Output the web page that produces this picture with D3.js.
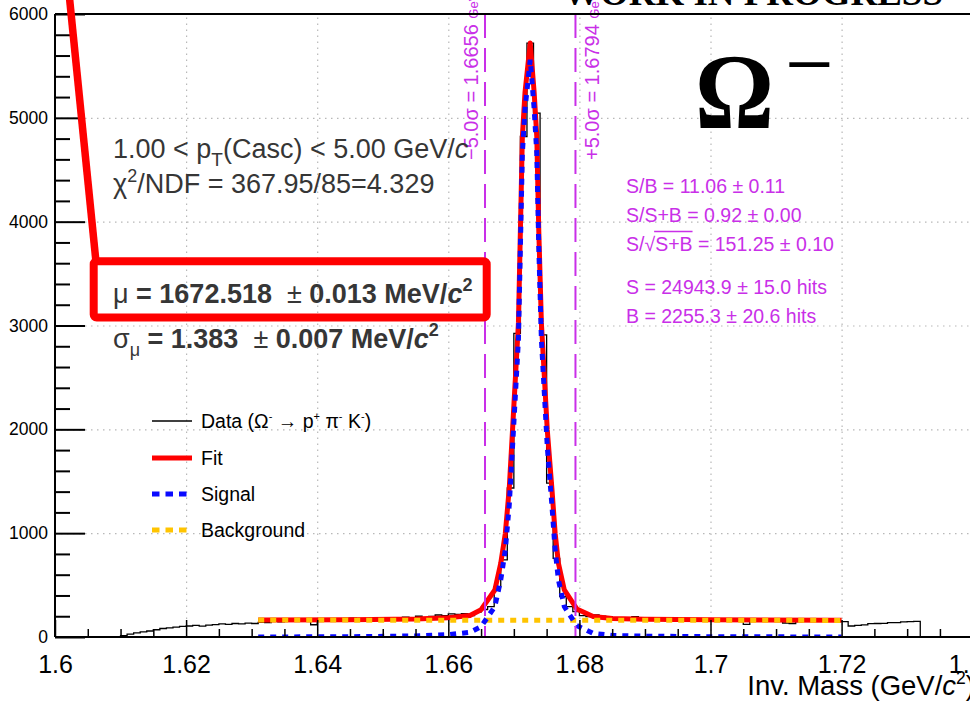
<!DOCTYPE html>
<html><head><meta charset="utf-8">
<script src="https://cdn.jsdelivr.net/npm/d3@7"></script>
<style>
html,body{margin:0;padding:0;background:#fff;}
svg{display:block;}
</style></head>
<body>
<svg id="c" width="970" height="703" font-family="Liberation Sans, Arial, Helvetica, sans-serif"></svg>
<script>
// ---------------- DATA ----------------
const histFirstEdge = 1.610;          // lower edge of first filled bin (GeV/c^2)
const histBinWidth = 0.001;           // 1 MeV bins
const histCounts = [
  12,28,40,50,58,70,82,88,95,102,          // 1.610-1.619
  106,112,104,114,120,126,122,130,126,134, // 1.620-1.629
  130,140,138,150,146,152,160,150,156,118, // 1.630-1.639
  158,165,160,170,178,182,168,172,165,175, // 1.640-1.649
  168,178,172,190,185,200,183,198,212,206, // 1.650-1.659
  222,218,225,205,240,265,292,485,742,1435,// 1.660-1.669
  2925,4820,5720,5045,2910,1481,758,388,292,244, // 1.670-1.679
  205,196,212,200,196,180,172,176,196,172, // 1.680-1.689
  165,160,168,158,162,155,165,160,158,150, // 1.690-1.699
  162,158,160,152,158,122,150,158,155,160, // 1.700-1.709
  152,135,130,148,155,150,158,152,156,150, // 1.710-1.719
  148,106,112,116,128,130,132,138,138,146, // 1.720-1.729
  148,150,4,4,4,4,4,4,4,4                  // 1.730-1.739
];

// fit curves
const fitMass  = [1.631,1.645,1.655,1.660,1.6633,1.6650,1.6671,1.6680,1.6687,1.6693,1.6698,1.6707,1.6710,1.6713,1.6717,1.6725,1.6731,1.6735,1.6738,1.6742,1.6751,1.6758,1.6763,1.6768,1.6777,1.6796,1.6821,1.6850,1.690,1.700,1.720];
const fitTotal = [163,166,173,185,208,263,453,710,999,1432,1994,3025,3921,4820,5243,5720,5243,4820,3921,3025,1994,1432,999,710,453,270,198,178,171,166,162];
const fitSignal= [0,3,10,22,45,100,293,550,839,1272,1834,2865,3760,4660,5083,5560,5083,4660,3760,2865,1834,1272,839,550,293,110,35,15,8,3,0];
const bgMass = [1.631,1.660,1.690,1.720];
const bgVals = [163,162,161,160];

const sigmaLines = [1.6656, 1.6794];
const sigmaLabels = ["\u22125.0\u03c3 = 1.6656", "+5.0\u03c3 = 1.6794"];

const xMajorTicks = [1.6,1.62,1.64,1.66,1.68,1.7,1.72,1.74];
const xTickLabels = ["1.6","1.62","1.64","1.66","1.68","1.7","1.72","1.74"];
const yMajorTicks = [0,1000,2000,3000,4000,5000,6000];
const yTickLabels = ["0","1000","2000","3000","4000","5000","6000"];

const statLines = ["S/B = 11.06 \u00b1 0.11","S/S+B = 0.92 \u00b1 0.00","S/\u221aS+B = 151.25 \u00b1 0.10","S = 24943.9 \u00b1 15.0 hits","B = 2255.3 \u00b1 20.6 hits"];
const legendNames = ["Data","Fit","Signal","Background"];

// ---------------- DRAW ----------------
const svg = d3.select("#c");
svg.append("rect").attr("width",970).attr("height",703).attr("fill","#fff");

const x = d3.scaleLinear().domain([1.6,1.74]).range([55,972.7]);
const y = d3.scaleLinear().domain([0,6000]).range([637,14]);
const X0=55, X1=972.7, Y0=637, Y1=14;
const SANS = "Liberation Sans, Arial, Helvetica, sans-serif";
const SERIF = "Liberation Serif, DejaVu Serif, serif";

const MAG = "#c92fe8", RED="#ff0000", BLUE="#0a0aff", YEL="#ffc400", GRAY="#363636";

// grid
const gridX = svg.append("g").attr("transform",`translate(0,${Y0})`)
  .call(d3.axisBottom(x).tickValues(xMajorTicks.slice(1)).tickSize(-(Y0-Y1)).tickFormat(""));
gridX.select(".domain").remove();
gridX.selectAll("line").attr("stroke","#b8b8b8").attr("stroke-width",1.2).attr("stroke-dasharray","1.5,4.5");
const gridY = svg.append("g").attr("transform",`translate(${X0},0)`)
  .call(d3.axisLeft(y).tickValues(yMajorTicks.slice(1,6)).tickSize(-(X1-X0)).tickFormat(""));
gridY.select(".domain").remove();
gridY.selectAll("line").attr("stroke","#b8b8b8").attr("stroke-width",1.2).attr("stroke-dasharray","1.5,4.5");

// clip
svg.append("clipPath").attr("id","pc").append("rect").attr("x",X0).attr("y",Y1).attr("width",X1-X0).attr("height",Y0-Y1);
const plot = svg.append("g").attr("clip-path","url(#pc)");

// histogram
const histPts = [[histFirstEdge,0]];
histCounts.forEach((c,i)=>histPts.push([histFirstEdge+i*histBinWidth,c]));
histPts.push([histFirstEdge+histCounts.length*histBinWidth,histCounts[histCounts.length-1]]);
histPts.push([histFirstEdge+histCounts.length*histBinWidth,0]);
const stepLine = d3.line().x(d=>x(d[0])).y(d=>y(d[1])).curve(d3.curveStepAfter);
plot.append("path").attr("d",stepLine(histPts)).attr("fill","none").attr("stroke","#000").attr("stroke-width",1.3);

const lin = d3.line().x(d=>x(d[0])).y(d=>y(d[1]));
plot.append("path").attr("d",lin(fitMass.map((m,i)=>[m,fitTotal[i]])))
  .attr("fill","none").attr("stroke",RED).attr("stroke-width",5).attr("stroke-linejoin","round");
plot.append("path").attr("d",lin(bgMass.map((m,i)=>[m,bgVals[i]])))
  .attr("fill","none").attr("stroke",YEL).attr("stroke-width",5).attr("stroke-dasharray","6,6");
plot.append("path").attr("d",lin(fitMass.map((m,i)=>[m,fitSignal[i]])))
  .attr("fill","none").attr("stroke",BLUE).attr("stroke-width",5).attr("stroke-dasharray","6,6");

// sigma lines
sigmaLines.forEach((m,i)=>{
  svg.append("line").attr("x1",x(m)).attr("x2",x(m)).attr("y1",Y1).attr("y2",Y0)
    .attr("stroke",MAG).attr("stroke-width",2).attr("stroke-dasharray","24,10");
  const bx = i===0 ? x(m)-7 : x(m)+24;
  const t = svg.append("text").attr("transform",`translate(${bx},160) rotate(-90)`)
    .attr("fill",MAG).attr("font-size",20);
  t.append("tspan").text(sigmaLabels[i]+" ");
  t.append("tspan").attr("font-size",13).text("GeV/");
  t.append("tspan").attr("font-size",13).attr("font-style","italic").text("c");
  t.append("tspan").attr("font-size",9).attr("dy",-6).text("2");
});

// axes
const yAxis = svg.append("g").attr("transform",`translate(${X0},0)`)
  .call(d3.axisLeft(y).tickValues(yMajorTicks).tickSize(-30).tickPadding(7).tickFormat((d,i)=>yTickLabels[i]));
yAxis.select(".domain").remove();
yAxis.selectAll("line").attr("stroke","#000").attr("stroke-width",2);
yAxis.selectAll("text").attr("font-size",17.5).attr("fill","#000").attr("font-family",SANS);
const yMinor = yMajorTicks.slice(0,-1).flatMap(v=>[200,400,600,800].map(o=>v+o));
const yAxisMin = svg.append("g").attr("transform",`translate(${X0},0)`)
  .call(d3.axisLeft(y).tickValues(yMinor).tickSize(-15).tickFormat(""));
yAxisMin.select(".domain").remove();
yAxisMin.selectAll("line").attr("stroke","#000").attr("stroke-width",2);

const xAxis = svg.append("g").attr("transform",`translate(0,${Y0})`)
  .call(d3.axisBottom(x).tickValues(xMajorTicks).tickSize(-17).tickFormat((d,i)=>xTickLabels[i]));
xAxis.select(".domain").remove();
xAxis.selectAll("line").attr("stroke","#000").attr("stroke-width",1.5);
xAxis.selectAll("text").attr("font-size",25).attr("fill","#000").attr("y",36).attr("dy",0).attr("font-family",SANS);
const xMinor = xMajorTicks.slice(0,-1).flatMap(v=>[0.005,0.01,0.015].map(o=>+(v+o).toFixed(3)));
const xAxisMin = svg.append("g").attr("transform",`translate(0,${Y0})`)
  .call(d3.axisBottom(x).tickValues(xMinor).tickSize(-8).tickFormat(""));
xAxisMin.select(".domain").remove();
xAxisMin.selectAll("line").attr("stroke","#000").attr("stroke-width",1.5);

// frame
svg.append("line").attr("x1",X0).attr("x2",X0).attr("y1",Y1).attr("y2",Y0).attr("stroke","#000").attr("stroke-width",2);
svg.append("line").attr("x1",X0).attr("x2",X1).attr("y1",Y0).attr("y2",Y0).attr("stroke","#000").attr("stroke-width",2);
svg.append("line").attr("x1",X0).attr("x2",X1).attr("y1",Y1).attr("y2",Y1).attr("stroke","#000").attr("stroke-width",2);

// axis title
const xt = svg.append("text").attr("x",975).attr("y",695).attr("text-anchor","end").attr("font-size",27.5).attr("fill","#000");
xt.append("tspan").text("Inv. Mass (GeV/");
xt.append("tspan").attr("font-style","italic").text("c");
xt.append("tspan").attr("font-size",17.5).attr("dy",-11).text("2");
xt.append("tspan").attr("dy",11).text(")");

function rich(parent, xx, yy, size, color, parts, weight){
  const t = parent.append("text").attr("x",xx).attr("y",yy).attr("font-size",size).attr("fill",color)
    .attr("font-weight",weight||"normal").attr("xml:space","preserve").style("white-space","pre");
  parts.forEach(p=>{
    const s = t.append("tspan").text(p.t);
    if(p.size) s.attr("font-size",p.size);
    if(p.dy) s.attr("dy",p.dy);
    if(p.it) s.attr("font-style","italic");
    if(p.w) s.attr("font-weight",p.w);
  });
  return t;
}

// top-left info
rich(svg,113,158,27,GRAY,[{t:"1.00 < p"},{t:"T",size:19,dy:8},{t:"(Casc) < 5.00 GeV/",dy:-8},{t:"c",it:true}]);
rich(svg,113,193,27,GRAY,[{t:"\u03c7"},{t:"2",size:18,dy:-11},{t:"/NDF = 367.95/85=4.329",dy:11}]);
rich(svg,113,303,27,GRAY,[{t:"\u03bc",w:"normal"},{t:" = 1672.518  "},{t:"\u00b1",w:"normal"},{t:" 0.013 MeV/"},{t:"c",it:true},{t:"2",size:18,dy:-12}],"bold");
rich(svg,113,348,27,GRAY,[{t:"\u03c3",w:"normal"},{t:"\u03bc",w:"normal",size:18,dy:8},{t:" = 1.383  ",dy:-8},{t:"\u00b1",w:"normal"},{t:" 0.007 MeV/"},{t:"c",it:true},{t:"2",size:18,dy:-12}],"bold");

// magenta stats
const statY = [193,222,251,294,323];
statLines.forEach((s,i)=>{
  const t = svg.append("text").attr("x",626).attr("y",statY[i]).attr("font-size",19.5).attr("fill",MAG).text(s);
  if(s.indexOf("\u221a")>=0){
    const node = t.node();
    const k = s.indexOf("\u221a");
    const a = node.getStartPositionOfChar(k+1).x;
    const b = node.getEndPositionOfChar(k+3).x;
    svg.append("line").attr("x1",a-1).attr("x2",b).attr("y1",statY[i]-19.5).attr("y2",statY[i]-19.5)
      .attr("stroke",MAG).attr("stroke-width",1.6);
  }
});

// legend
const legY = [421,458,494,530];
const legStyles = [
  {c:"#000",w:1.5,d:null},{c:RED,w:5,d:null},{c:BLUE,w:5,d:"7.5,6"},{c:YEL,w:5,d:"7.5,6"}];
legendNames.forEach((n,i)=>{
  const l = svg.append("line").attr("x1",152).attr("x2",192).attr("y1",legY[i]).attr("y2",legY[i])
    .attr("stroke",legStyles[i].c).attr("stroke-width",legStyles[i].w);
  if(legStyles[i].d) l.attr("stroke-dasharray",legStyles[i].d);
  if(i===0){
    rich(svg,201,legY[i]+7,19.5,"#000",[{t:"Data (\u03a9"},{t:"-",size:11,dy:-8},{t:" \u2192 p",dy:8},{t:"+",size:11,dy:-8},{t:" \u03c0",dy:8},{t:"-",size:11,dy:-8},{t:" K",dy:8},{t:"-",size:11,dy:-8},{t:")",dy:8}]);
  } else {
    svg.append("text").attr("x",201).attr("y",legY[i]+7).attr("font-size",19.5).attr("fill","#000").text(n);
  }
});

// Omega label
svg.append("text").attr("x",695).attr("y",128).attr("font-family",SERIF).attr("font-weight","bold")
  .attr("font-size",108).attr("textLength",79).attr("lengthAdjust","spacingAndGlyphs").attr("fill","#000").text("\u03a9");
svg.append("text").attr("x",785).attr("y",88).attr("font-family",SERIF).attr("font-weight","bold")
  .attr("font-size",70).attr("textLength",49).attr("lengthAdjust","spacingAndGlyphs").attr("fill","#000").text("\u2212");

// WORK IN PROGRESS (cut at top)
svg.append("text").attr("x",563).attr("y",5).attr("font-family",SERIF).attr("font-weight","bold")
  .attr("font-size",36).attr("textLength",380).attr("lengthAdjust","spacingAndGlyphs").attr("fill","#000").text("WORK IN PROGRESS");

// red annotation
svg.append("line").attr("x1",68.7).attr("y1",-10).attr("x2",96).attr("y2",262).attr("stroke",RED).attr("stroke-width",7.5);
svg.append("rect").attr("x",93.7).attr("y",261.3).attr("width",393).attr("height",56.2).attr("rx",3)
  .attr("fill","none").attr("stroke",RED).attr("stroke-width",8);
</script>
</body></html>
